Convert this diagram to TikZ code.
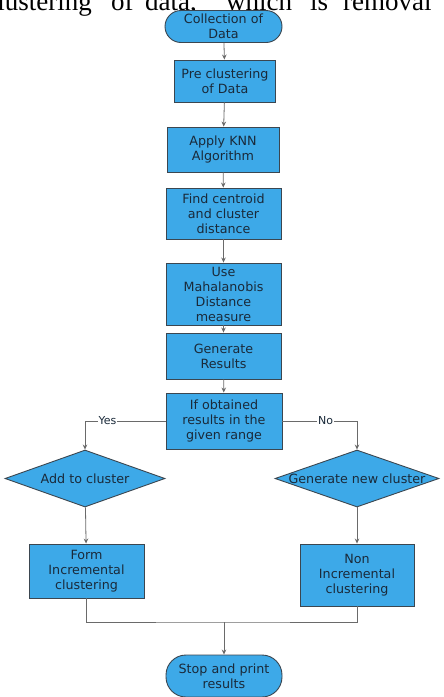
\documentclass[tikz,border=0pt]{standalone}
\usepackage{fontspec}
\newfontfamily\boxfont{DejaVu Sans}
\newfontfamily\paperfont{Liberation Serif}
\usetikzlibrary{shapes.geometric,arrows.meta}
\definecolor{boxfill}{HTML}{3DA9E8}
\definecolor{boxedge}{HTML}{3B4650}
\definecolor{boxtext}{HTML}{1A2A3A}
\definecolor{linegray}{HTML}{6A6A6A}
\tikzset{
  base/.style={draw=boxedge, fill=boxfill, line width=0.9pt, text=boxtext,
    font=\boxfont\fontsize{12.7}{15}\selectfont, align=center, inner sep=0pt},
  procbox/.style={base, rectangle, minimum width=#1},
  term/.style={base, rectangle, rounded corners=16pt},
  decbox/.style={base, diamond, minimum width=#1, minimum height=57pt},
  conn/.style={draw=linegray, line width=0.8pt},
  arr/.style={conn, -{Stealth[length=5pt,width=4.5pt]}},
  lab/.style={fill=white, inner sep=1pt, text=boxtext, font=\boxfont\fontsize{11}{13}\selectfont},
  ptext/.style={font=\paperfont\fontsize{27}{29}\selectfont, inner sep=0pt, text depth=0pt}
}
\begin{document}
\begin{tikzpicture}[x=1pt, y=-1pt]
\path[use as bounding box] (0,0) rectangle (444,697);
\clip (0,0) rectangle (444,697);
\fill[white] (0,0) rectangle (444,697);
% cropped paper text
\node[ptext, anchor=base east] (w1) at (92,10) {clustering};
\node[ptext, anchor=base west] (w2) at (111,10) {of};
\node[ptext, anchor=base west] (w3) at (145,10) {data,};
\node[ptext, anchor=base west] (w4) at (226,10) {which};
\node[ptext, anchor=base west] (w5) at (310,10) {is};
\node[ptext, anchor=base west] (w6) at (343,10) {removal};
% flowchart
\node[term, minimum width=117pt, minimum height=32pt] (start) at (223.5,26.5) {Collection of\\Data};
\node[procbox=101pt, minimum height=42pt] (pre) at (225,81) {Pre clustering\\of Data};
\node[procbox=112pt, minimum height=45pt] (knn) at (223,149.5) {Apply KNN\\Algorithm};
\node[procbox=115pt, minimum height=51pt] (cent) at (223.5,213.5) {Find centroid\\and cluster\\distance};
\node[procbox=115pt, minimum height=62pt] (maha) at (223.5,294) {Use\\Mahalanobis\\Distance\\measure};
\node[procbox=115pt, minimum height=46pt] (gen) at (223.5,356) {Generate\\Results};
\node[procbox=116pt, minimum height=56pt] (ifr) at (224,421) {If obtained\\results in the\\given range};
\node[decbox=160pt] (add) at (85,478.5) {\makebox[0pt]{Add to cluster}};
\node[decbox=164pt] (gnc) at (357,478.5) {\makebox[0pt]{Generate new cluster}};
\node[procbox=115pt, minimum height=54pt] (form) at (86.5,571) {Form\\Incremental\\clustering};
\node[procbox=114pt, minimum height=62pt] (non) at (357,575) {Non\\Incremental\\clustering};
\node[term, minimum width=116pt, minimum height=42pt, rounded corners=20pt] (stop) at (224,676) {Stop and print\\results};
% connectors
\draw[arr] (start) -- (pre);
\draw[arr] (pre) -- (knn);
\draw[arr] (knn) -- (cent);
\draw[arr] (cent) -- (maha);
\draw[arr] (maha) -- (gen);
\draw[arr] (gen) -- (ifr);
\draw[arr] (ifr.west) -| node[lab, pos=0.36] {Yes} (add.north);
\draw[arr] (ifr.east) -| node[lab, pos=0.29] {No} (gnc.north);
\draw[arr] (add) -- (form);
\draw[arr] (gnc) -- (non);
\coordinate (join) at (224,622);
\draw[conn] (form.south) |- (join) -| (non.south);
\draw[arr] (join) -- (stop.north);
\end{tikzpicture}
\end{document}
